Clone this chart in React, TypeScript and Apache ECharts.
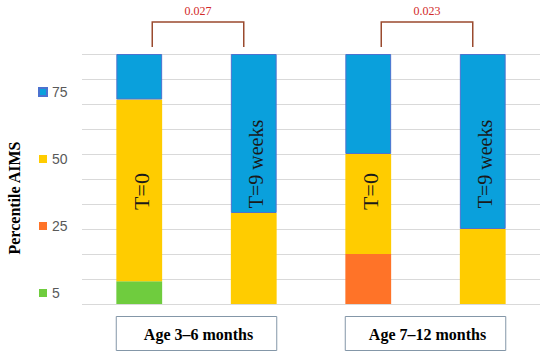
import React, { useEffect, useRef } from "react";
import * as echarts from "echarts";

const bars = ["3-6 T0", "3-6 T9", "7-12 T0", "7-12 T9"];
const barLabels = ["T=0", "T=9 weeks", "T=0", "T=9 weeks"];
const barLabelPos = [45, 56, 45, 56];
const barLabelSize = [22, 20, 22, 20];
const groups = ["Age 3–6 months", "Age 7–12 months"];
const pValues = ["0.027", "0.023"];

const p5 = [9.1, 0, 0, 0];
const p25 = [0, 0, 20, 0];
const p50 = [72.7, 36.4, 40, 30];
const p75 = [18.2, 63.6, 40, 70];

const legendOrder = ["75", "50", "25", "5"];

export default function App() {
  const ref = useRef<HTMLDivElement>(null);
  useEffect(() => {
    if (!ref.current) return;
    const chart = echarts.init(ref.current, undefined, { renderer: "svg" });
    const mk = (name: string, data: number[], color: string, extra: any = {}) => ({
      name,
      type: "bar",
      stack: "total",
      barWidth: "40%",
      data,
      itemStyle: { color, ...extra },
    });
    chart.setOption({
      animation: false,
      grid: { left: 82, right: 10, top: 54, bottom: 54 },
      legend: {
        data: legendOrder,
        orient: "vertical",
        left: 33,
        top: 80,
        itemWidth: 8,
        itemHeight: 8,
        itemGap: 53,
        icon: "rect",
        textStyle: { fontFamily: "Liberation Sans", fontSize: 14, color: "#595959", lineHeight: 14 },
        selectedMode: false,
      },
      xAxis: {
        type: "category",
        data: bars,
        axisLabel: { show: false },
        axisLine: { show: false },
        axisTick: { show: false },
      },
      yAxis: {
        type: "value",
        min: 0,
        max: 100,
        interval: 10,
        axisLabel: { show: false },
        axisLine: { show: false },
        axisTick: { show: false },
        splitLine: { lineStyle: { color: "#D9D9D9", width: 1 } },
      },
      series: [
        mk("5", p5, "#6FCC3E"),
        mk("25", p25, "#FF7328"),
        mk("50", p50, "#FFCC00"),
        mk("75", p75, "#0AA0DC", { borderColor: "#4C72CF", borderWidth: 1 }),
      ],
    });

    const px = (i: number, v: number) =>
      chart.convertToPixel({ xAxisIndex: 0, yAxisIndex: 0 }, [i, v]) as number[];
    const half = 23;
    const top = px(0, 100)[1];
    const graphics: any[] = [];

    barLabels.forEach((t, i) => {
      const [x, y] = px(i, barLabelPos[i]);
      graphics.push({
        type: "text",
        z: 100,
        x: x + 2,
        y,
        rotation: Math.PI / 2,
        style: {
          text: t,
          fontFamily: "Liberation Serif",
          fontSize: barLabelSize[i],
          fill: "#1a1a1a",
          align: "center",
          verticalAlign: "middle",
        },
      });
    });

    groups.forEach((g, k) => {
      const xl = px(2 * k, 0)[0] - half;
      const xr = px(2 * k + 1, 0)[0] + half;
      graphics.push({
        type: "rect",
        z: 100,
        shape: { x: xl, y: 316.5, width: xr - xl, height: 34 },
        style: { fill: "#fff", stroke: "#8497A8", lineWidth: 1 },
      });
      graphics.push({
        type: "text",
        z: 101,
        x: (xl + xr) / 2 + 2,
        y: 334,
        style: {
          text: g,
          fontFamily: "Liberation Serif",
          fontWeight: "bold",
          fontSize: 16,
          fill: "#000",
          align: "center",
          verticalAlign: "middle",
        },
      });
      const x1 = px(2 * k, 0)[0] + 13;
      const x2 = px(2 * k + 1, 0)[0] - 10;
      graphics.push({
        type: "polyline",
        z: 100,
        shape: { points: [[x1, top - 7], [x1, top - 32], [x2, top - 32], [x2, top - 7]] },
        style: { stroke: "#9A4A2E", lineWidth: 1.5, fill: "none" },
      });
      graphics.push({
        type: "text",
        z: 100,
        x: (x1 + x2) / 2,
        y: 11,
        style: {
          text: pValues[k],
          fontFamily: "Liberation Serif",
          fontSize: 12,
          fill: "#D22A2A",
          align: "center",
          verticalAlign: "middle",
        },
      });
    });

    graphics.push({
      type: "text",
      z: 100,
      x: 14,
      y: 198,
      rotation: Math.PI / 2,
      style: {
        text: "Percentile AIMS",
        fontFamily: "Liberation Serif",
        fontWeight: "bold",
        fontSize: 16,
        fill: "#000",
        align: "center",
        verticalAlign: "middle",
      },
    });

    chart.setOption({ graphic: graphics });
    return () => chart.dispose();
  }, []);
  return (
    <div
      ref={ref}
      style={{ position: "absolute", left: 0, top: 0, width: 550, height: 358 }}
    />
  );
}
